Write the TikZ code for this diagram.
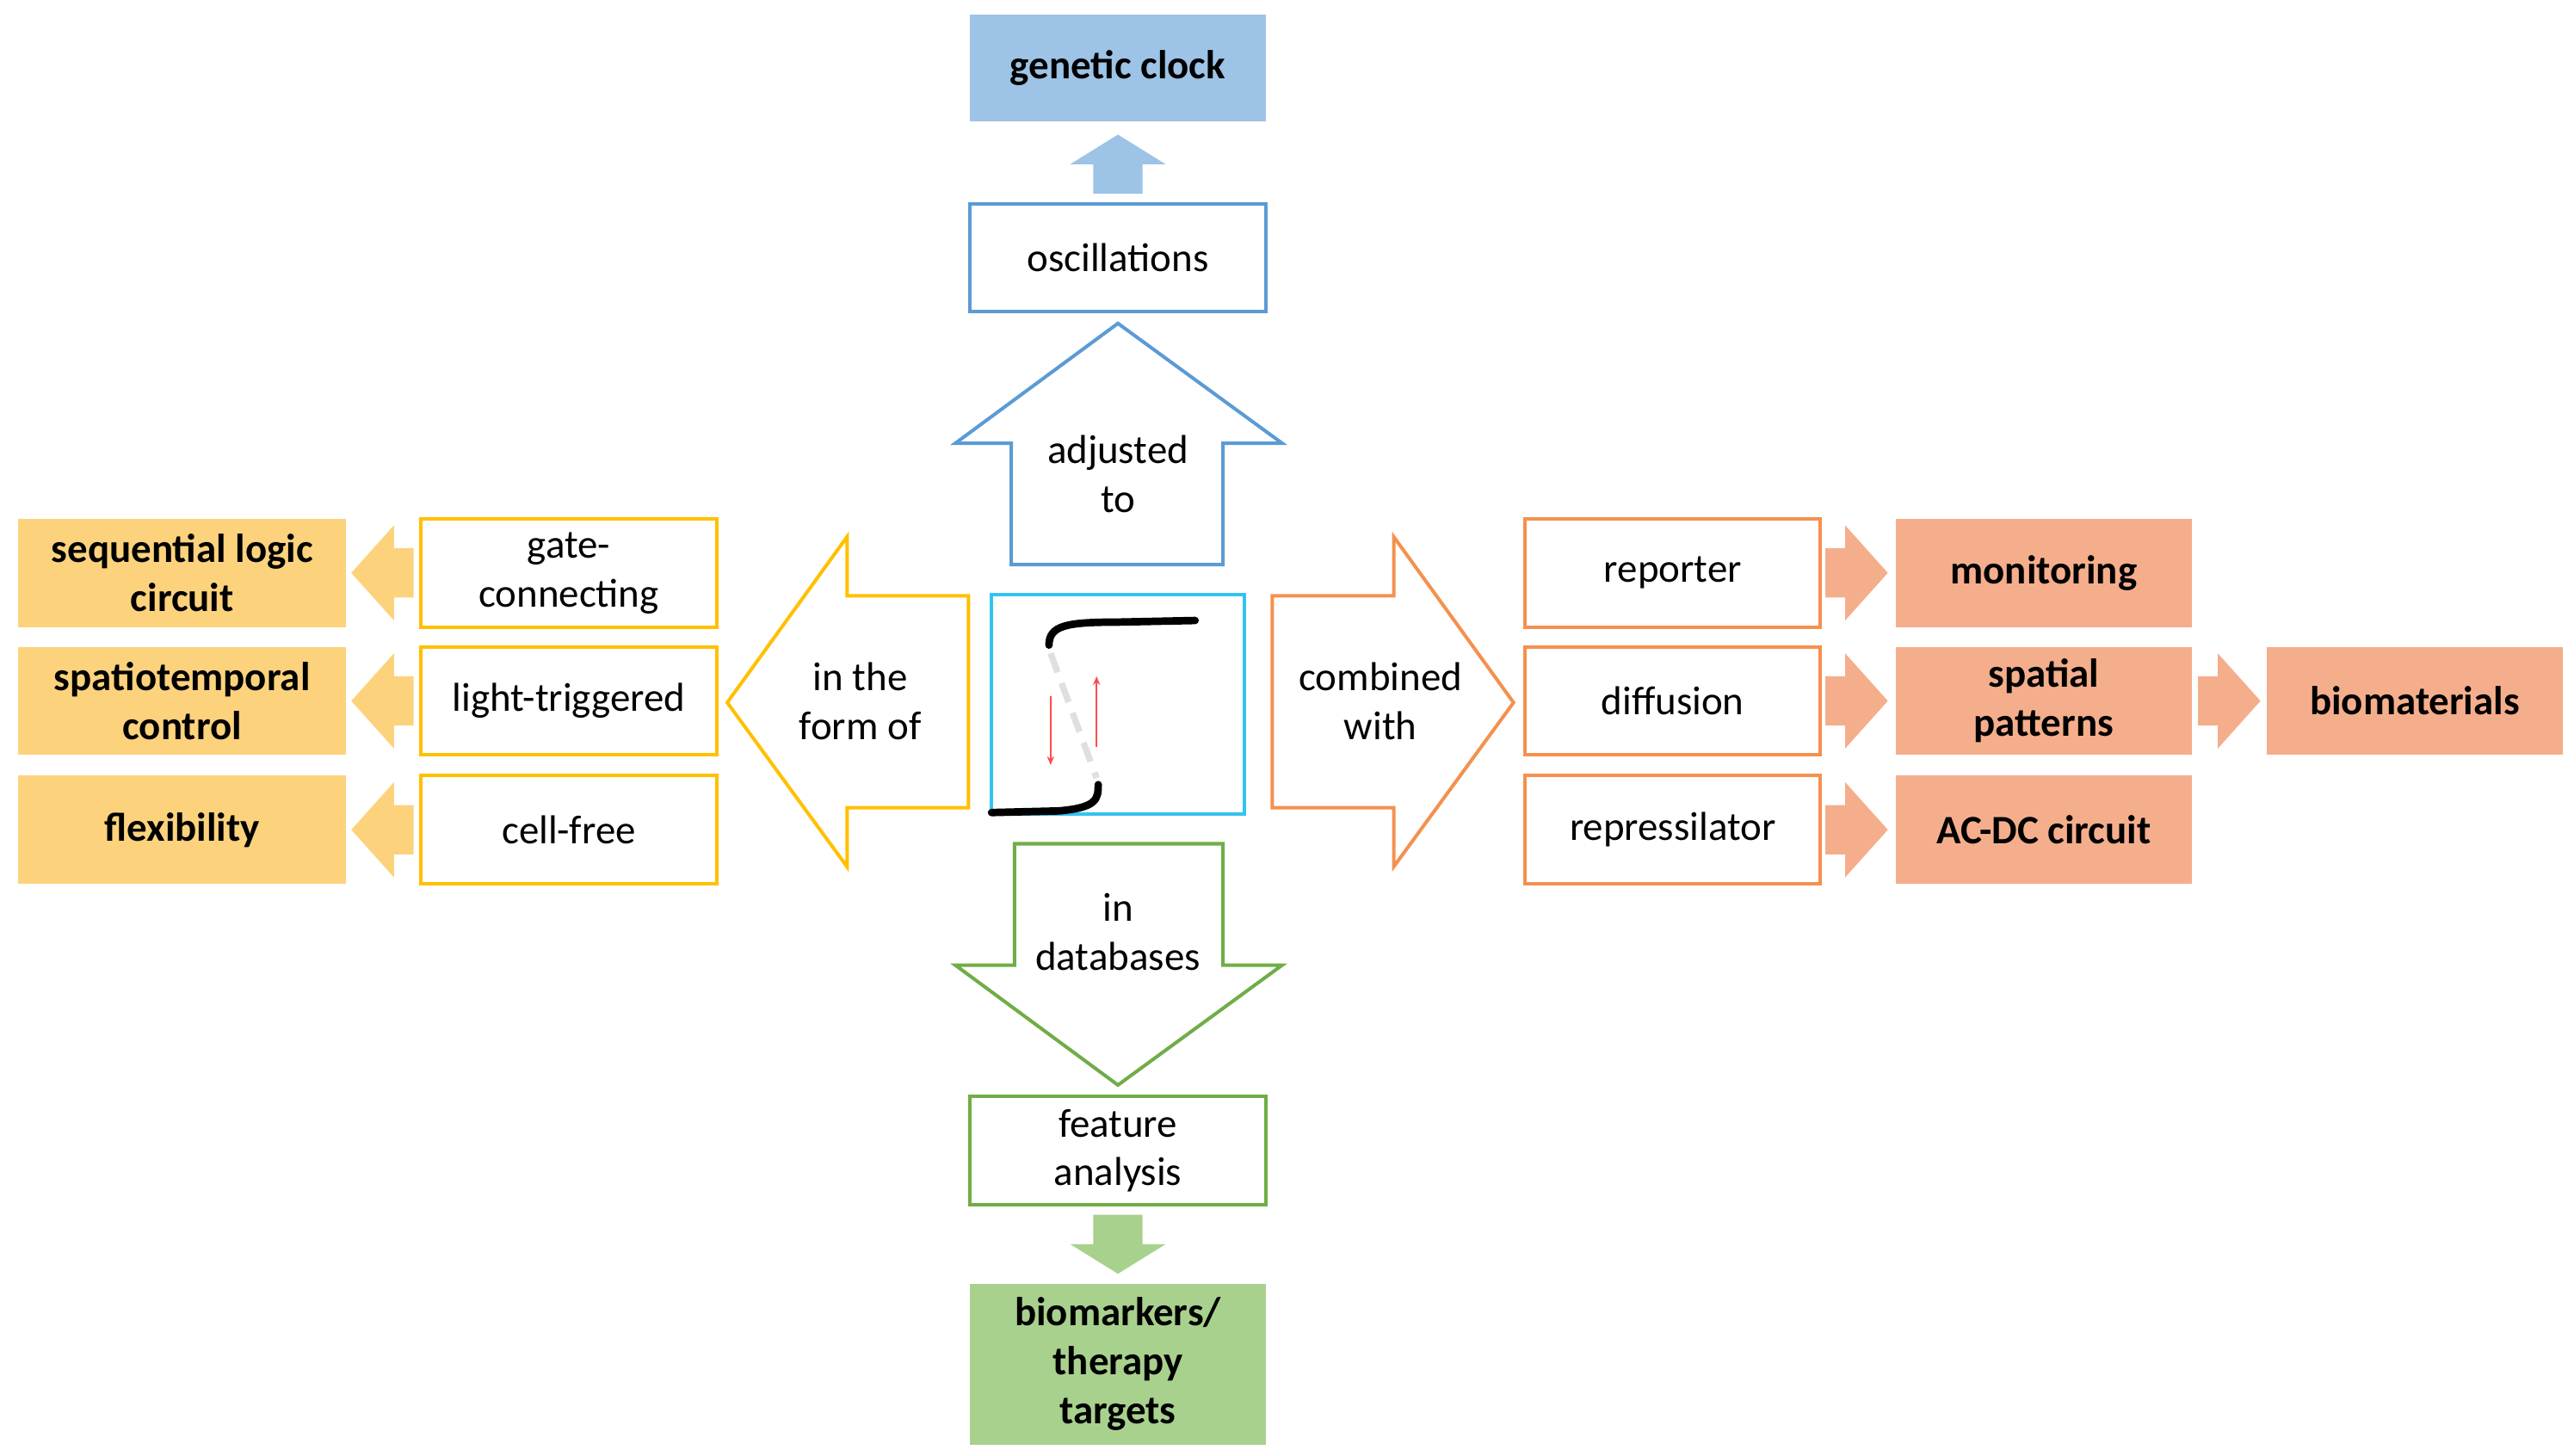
\documentclass[tikz,border=0pt]{standalone}
\usepackage{fontspec}
\setmainfont{Carlito}
\usetikzlibrary{arrows.meta}
\begin{document}
\definecolor{cblue}{HTML}{5B9BD5}
\definecolor{fblue}{HTML}{9DC3E6}
\definecolor{ccyan}{HTML}{33C3F0}
\definecolor{cyel}{HTML}{FFC000}
\definecolor{fyel}{HTML}{FCD27D}
\definecolor{cora}{HTML}{F4914F}
\definecolor{fora}{HTML}{F5AE8C}
\definecolor{cgre}{HTML}{70AD47}
\definecolor{fgre}{HTML}{A9D18E}
\begin{tikzpicture}[x=0.02cm,y=-0.02cm,
  txt/.style={font=\fontsize{14}{17}\selectfont,align=center,text=black},
  btxt/.style={txt,font=\fontsize{14}{17}\selectfont\bfseries},
  wbox/.style={draw,line width=1.2pt,fill=white,minimum width=3.6cm,minimum height=1.32cm,txt,inner sep=0pt},
  fbox/.style={wbox,btxt,draw=none},
  big/.style={line width=1.2pt,fill=white,line join=miter}]
\useasboundingbox (0,0) rectangle (1568,887);
% top (blue)
\node[fbox,fill=fblue,minimum height=1.3cm] (gc) at (681,41.5) {genetic clock};
\fill[fblue] (666,118) -- (696,118) -- (696,100) -- (710,100) -- (681,82) -- (652,100) -- (666,100) -- cycle;
\node[wbox,draw=cblue] (osc) at (681,157) {oscillations};
\draw[big,draw=cblue] (616,344) -- (616,270) -- (582,270) -- (681,197) -- (781,270) -- (745,270) -- (745,344) -- cycle;
\node[txt] (adj) at (681,289) {adjusted\\to};
% center
\node[draw=ccyan,line width=1.2pt,minimum width=3.08cm,minimum height=2.68cm] (c) at (681,429) {};
\draw[line width=2.6pt,line cap=round] (639,393) .. controls (639,381) and (650,379) .. (680,379) -- (728,378);
\draw[line width=2.6pt,line cap=round] (604,495) -- (645,494) .. controls (668,492) and (669,487) .. (669,478);
\draw[line width=2.2pt,gray!25,dash pattern=on 7pt off 4pt] (640,398) -- (668,474);
\draw[red!70,line width=0.6pt,-{Stealth[length=3pt,width=2.5pt]}] (640,424) -- (640,466);
\draw[red!70,line width=0.6pt,-{Stealth[length=3pt,width=2.5pt]}] (668,455) -- (668,412);
% left (yellow)
\draw[big,draw=cyel] (590,363) -- (516,363) -- (516,327) -- (443,428) -- (516,528) -- (516,492) -- (590,492) -- cycle;
\node[txt] (form) at (524,427) {in the\\form of};
\node[wbox,draw=cyel] (l1) at (346.5,349) {gate-\\connecting};
\node[wbox,draw=cyel] (l2) at (346.5,427) {light-triggered};
\node[wbox,draw=cyel] (l3) at (346.5,505.5) {cell-free};
\node[fbox,fill=fyel,minimum width=4cm] (L1) at (111,349) {sequential logic\\circuit};
\node[fbox,fill=fyel,minimum width=4cm] (L2) at (111,427) {spatiotemporal\\control};
\node[fbox,fill=fyel,minimum width=4cm] (L3) at (111,505.5) {flexibility};
\foreach \y in {349,427,505.5}
  \fill[fyel] (252,\y-15) -- (240,\y-15) -- (240,\y-29) -- (214,\y) -- (240,\y+29) -- (240,\y+15) -- (252,\y+15) -- cycle;
% right (orange)
\draw[big,draw=cora] (775,363) -- (849,363) -- (849,327) -- (922,428) -- (849,528) -- (849,492) -- (775,492) -- cycle;
\node[txt] (comb) at (841,427) {combined\\with};
\node[wbox,draw=cora] (r1) at (1019,349) {reporter};
\node[wbox,draw=cora] (r2) at (1019,427) {diffusion};
\node[wbox,draw=cora] (r3) at (1019,505.5) {repressilator};
\node[fbox,fill=fora] (R1) at (1245,349) {monitoring};
\node[fbox,fill=fora] (R2) at (1245,427) {spatial\\patterns};
\node[fbox,fill=fora] (R3) at (1245,505.5) {AC-DC circuit};
\node[fbox,fill=fora] (R4) at (1471,427) {biomaterials};
\foreach \x/\y in {1112/349,1112/427,1112/505.5,1339/427}
  \fill[fora] (\x,\y-15) -- (\x+12,\y-15) -- (\x+12,\y-29) -- (\x+38,\y) -- (\x+12,\y+29) -- (\x+12,\y+15) -- (\x,\y+15) -- cycle;
% bottom (green)
\draw[big,draw=cgre] (618,514) -- (745,514) -- (745,588) -- (781,588) -- (681,661) -- (582,588) -- (618,588) -- cycle;
\node[txt] (db) at (681,568) {in\\databases};
\node[wbox,draw=cgre] (fa) at (681,701) {feature\\analysis};
\fill[fgre] (666,740) -- (696,740) -- (696,758) -- (710,758) -- (681,776) -- (652,758) -- (666,758) -- cycle;
\node[fbox,fill=fgre,minimum height=1.96cm] (bm) at (681,831) {biomarkers/\\therapy\\targets};
\end{tikzpicture}
\end{document}
